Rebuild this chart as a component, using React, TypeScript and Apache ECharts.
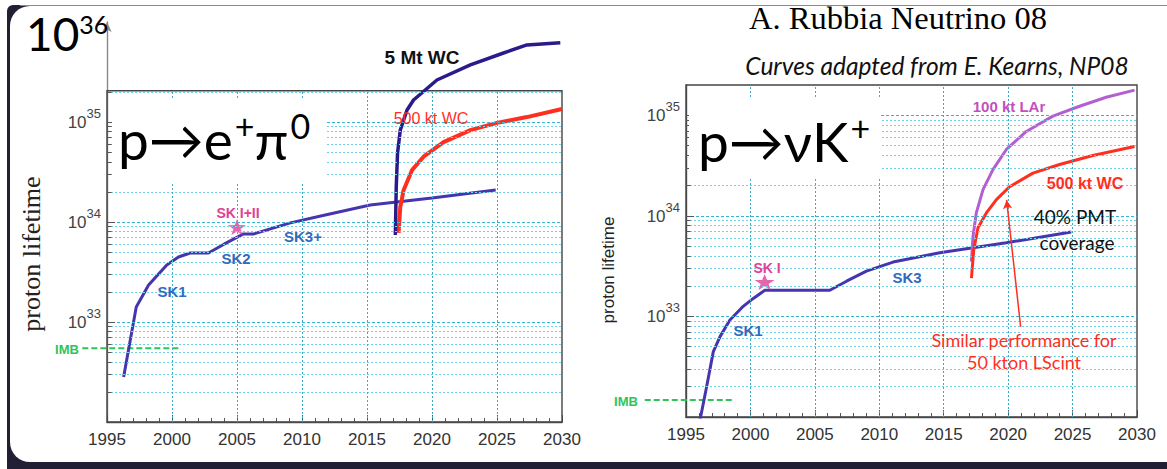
import React, { useEffect, useRef } from 'react';
import * as echarts from 'echarts';

// ---------- axes ----------
const YEAR_MIN = 1995;
const YEAR_MAX = 2030;
const X_GRID_YEARS = [2000, 2005, 2010, 2015, 2020, 2025];
const DECADES = [32, 33, 34, 35];
const MULTIPLIERS = [1, 2, 3, 4, 5, 6, 7, 8, 9];
const LABELLED_EXPONENTS = [33, 34, 35];
const LEFT_Y_MIN = 1e32;
const LEFT_Y_MAX = 1e36;
const LEFT_BOX_TOP = 2.05e35;
const RIGHT_Y_MIN = 1e32;
const RIGHT_Y_MAX = 2e35;

// ---------- left panel: p -> e+ pi0 ----------
const LEFT_SK = [
  [1996.28, 2.82e32], [1997.25, 1.41e33], [1998.2, 2.34e33], [1999.6, 3.72e33],
  [2000.5, 4.47e33], [2001.4, 4.9e33], [2002.8, 4.9e33], [2004.0, 6.0e33],
  [2005.5, 7.6e33], [2006.3, 7.6e33], [2009.1, 9.8e33], [2011.7, 1.17e34],
  [2015.25, 1.48e34], [2020.0, 1.74e34], [2024.9, 2.09e34],
];
const LEFT_5MT_WC = [
  [2017.18, 7.4e33], [2017.25, 2.24e34], [2017.35, 4.9e34], [2017.56, 8.3e34],
  [2018.08, 1.32e35], [2018.58, 1.66e35], [2019.48, 2.09e35], [2020.38, 2.63e35],
  [2022.95, 3.72e35], [2025.5, 4.9e35], [2027.3, 5.9e35], [2029.87, 6.2e35],
];
const LEFT_500KT_WC = [
  [2017.43, 7.8e33], [2017.56, 1.41e34], [2017.82, 2.09e34], [2018.46, 3.3e34],
  [2019.35, 4.5e34], [2020.89, 6.3e34], [2022.95, 8.3e34], [2025.0, 9.8e34],
  [2027.3, 1.12e35], [2030.0, 1.35e35],
];
const LEFT_IMB = [[1993.1, 5.45e32], [2000.64, 5.45e32]];
const LEFT_SK12_STAR = [[2005.0, 8.9e33]];

// ---------- right panel: p -> nu K+ ----------
const RIGHT_SK = [
  [1996.1, 9.5e31], [1996.6, 2.0e32], [1997.12, 4.47e32], [1997.64, 6.3e32],
  [1998.41, 9.2e32], [1999.44, 1.26e33], [2000.22, 1.51e33], [2001.12, 1.82e33],
  [2006.16, 1.82e33], [2007.46, 2.24e33], [2009.0, 2.82e33], [2011.07, 3.47e33],
  [2014.69, 4.3e33], [2019.86, 5.4e33], [2024.9, 6.9e33],
];
const RIGHT_100KT_LAR = [
  [2017.15, 3.5e33], [2017.27, 6.2e33], [2017.53, 1.07e34], [2018.05, 1.82e34],
  [2018.82, 2.88e34], [2019.86, 4.57e34], [2021.41, 6.9e34], [2023.47, 9.8e34],
  [2025.54, 1.23e35], [2027.61, 1.51e35], [2029.81, 1.78e35],
];
const RIGHT_500KT_WC = [
  [2017.15, 2.4e33], [2017.33, 4.57e33], [2017.66, 7.6e33], [2018.31, 1.07e34],
  [2019.09, 1.45e34], [2020.12, 1.95e34], [2021.92, 2.66e34], [2023.99, 3.24e34],
  [2026.57, 3.98e34], [2029.81, 4.9e34],
];
const RIGHT_IMB = [[1991.8, 1.48e32], [1998.67, 1.48e32]];
const RIGHT_SK1_STAR = [[2001.1, 2.2e33]];
const RIGHT_LSCINT_ARROW = [[2020.97, 7.9e32], [2019.88, 1.44e34]];

// ---------- styles ----------
const SANS = "'Liberation Sans', Arial, Helvetica, sans-serif";
const SERIF = "'Liberation Serif', 'Times New Roman', serif";
const HUMAN = "Lato, 'Open Sans', 'Noto Sans', sans-serif";
const C_SK = '#4535ae';
const C_5MT = '#2a1b8c';
const C_RED = '#ff2f1f';
const C_LAR = '#b45fd0';
const C_MAG = '#e0409a';
const C_BLUE_LBL = '#2f6cc0';
const C_GREEN = '#2fc45a';
const C_AXIS = '#555';
const STAR = 'path://M0,-10 L2.35,-3.24 L9.51,-3.09 L3.8,1.24 L5.88,8.09 L0,4 L-5.88,8.09 L-3.8,1.24 L-9.51,-3.09 L-2.35,-3.24 Z';

const MAJOR_LINE = { color: '#38b4d2', width: 1.1, type: [3, 2], opacity: 1 };
const MINOR_LINE = { color: '#70d0e4', width: 1, type: [2, 2], opacity: 1 };
const VERT_LINE = { color: '#3aaccc', width: 1, type: [2, 2], opacity: 1 };
const TICK_LINE = { color: C_AXIS, width: 1, type: 'solid', opacity: 1 };

function buildGridLines(yMin: number, boxTop: number) {
  const lines: any[] = [];
  for (const d of DECADES) {
    for (const m of MULTIPLIERS) {
      const v = m * Math.pow(10, d);
      if (v <= yMin * 1.001 || v >= boxTop) continue;
      lines.push([{ coord: [YEAR_MIN, v], lineStyle: m === 1 ? MAJOR_LINE : MINOR_LINE }, { coord: [YEAR_MAX, v] }]);
      // y-axis tick (long for decades, short for the 2..9 sub-divisions)
      lines.push([{ coord: [YEAR_MIN, v], lineStyle: TICK_LINE }, { coord: [YEAR_MIN + (m === 1 ? 0.62 : 0.35), v] }]);
    }
  }
  for (const yr of X_GRID_YEARS) {
    lines.push([{ coord: [yr, yMin], lineStyle: VERT_LINE }, { coord: [yr, boxTop] }]);
  }
  return lines;
}

function boxSeries(idx: number, yMin: number, boxTop: number) {
  return {
    type: 'line',
    xAxisIndex: idx,
    yAxisIndex: idx,
    data: [[YEAR_MIN, yMin]],
    symbol: 'none',
    lineStyle: { opacity: 0 },
    silent: true,
    z: 1,
    markArea: {
      silent: true,
      itemStyle: { color: 'rgba(0,0,0,0)', borderColor: '#444', borderWidth: 1.4 },
      data: [[{ coord: [YEAR_MIN, yMin] }, { coord: [YEAR_MAX, boxTop] }]],
    },
    markLine: {
      silent: true,
      symbol: ['none', 'none'],
      label: { show: false },
      data: buildGridLines(yMin, boxTop),
    },
  };
}

function lineSeries(idx: number, data: number[][], color: string, width: number, extra: any = {}) {
  return {
    type: 'line',
    xAxisIndex: idx,
    yAxisIndex: idx,
    data,
    symbol: 'none',
    smooth: false,
    lineStyle: { color, width },
    itemStyle: { color },
    z: 3,
    ...extra,
  };
}

// dashed reference level that reaches left of the axis (drawn through the axis scales)
function levelSeries(idx: number, seg: number[][], color: string) {
  return {
    type: 'custom',
    xAxisIndex: idx,
    yAxisIndex: idx,
    clip: false,
    silent: true,
    z: 3,
    data: [[seg[0][0], seg[0][1], seg[1][0], seg[1][1]]],
    encode: { x: [0, 2], y: [1, 3] },
    renderItem: (_params: any, api: any) => {
      const a = api.coord([api.value(0), api.value(1)]);
      const b = api.coord([api.value(2), api.value(3)]);
      return {
        type: 'line',
        shape: { x1: a[0], y1: a[1], x2: b[0], y2: b[1] },
        style: { stroke: color, lineWidth: 2, lineDash: [6, 3] },
      };
    },
  };
}

function yLabelFormatter(v: number) {
  const e = Math.log10(v);
  const r = Math.round(e);
  if (Math.abs(e - r) > 1e-6 || LABELLED_EXPONENTS.indexOf(r) < 0) return '';
  return `{b|10}{s|${r}}`;
}

const yLabelRich = {
  b: { fontSize: 17, fontFamily: SANS, color: '#444', verticalAlign: 'bottom', lineHeight: 18 },
  s: { fontSize: 13, fontFamily: SANS, color: '#444', verticalAlign: 'bottom', lineHeight: 14, padding: [0, 0, 11, 0] },
};

function xAxis(idx: number) {
  return {
    type: 'value',
    gridIndex: idx,
    min: YEAR_MIN,
    max: YEAR_MAX,
    interval: 5,
    axisLine: { show: true, lineStyle: { color: C_AXIS, width: 1.4 } },
    axisTick: { show: true, inside: true, length: 7, lineStyle: { color: C_AXIS, width: 1 } },
    minorTick: { show: true, splitNumber: 5, length: 4, lineStyle: { color: C_AXIS, width: 1 } },
    splitLine: { show: false },
    axisLabel: { fontSize: 17, fontFamily: SANS, color: '#333', margin: 9, formatter: (v: number) => String(v) },
  };
}

function yAxis(idx: number, min: number, max: number, arrow: boolean) {
  return {
    type: 'log',
    logBase: 10,
    gridIndex: idx,
    min,
    max,
    axisLine: {
      show: true,
      lineStyle: { color: arrow ? '#888' : C_AXIS, width: 1.4 },
      symbol: arrow ? ['none', 'arrow'] : ['none', 'none'],
      symbolSize: [7, 10],
    },
    axisTick: { show: false },
    splitLine: { show: false },
    minorTick: { show: false },
    axisLabel: { formatter: yLabelFormatter, rich: yLabelRich, margin: 6 },
  };
}

function txt(text: string, x: number, y: number, size: number, color: string, opts: any = {}) {
  return {
    type: 'text',
    x,
    y,
    z: 50,
    silent: true,
    rotation: opts.rotation || 0,
    style: {
      text,
      fill: color,
      fontSize: size,
      fontFamily: opts.family || SANS,
      fontWeight: opts.weight || 'normal',
      fontStyle: opts.style || 'normal',
      align: opts.align || 'center',
      verticalAlign: opts.valign || 'middle',
    },
  };
}

function richTxt(text: string, x: number, y: number, rich: any, z = 50) {
  return {
    type: 'text',
    x,
    y,
    z,
    silent: true,
    style: { text, rich, align: 'left', verticalAlign: 'top' },
  };
}

const bigRich = {
  b: { fontSize: 55, fontFamily: HUMAN, color: '#111', verticalAlign: 'bottom', lineHeight: 58 },
  s: { fontSize: 34, fontFamily: HUMAN, color: '#111', verticalAlign: 'bottom', lineHeight: 36, padding: [0, 0, 24, 2] },
};
const topRich = {
  b: { fontSize: 46, fontFamily: HUMAN, color: '#111', verticalAlign: 'bottom', lineHeight: 48 },
  s: { fontSize: 25, fontFamily: HUMAN, color: '#111', verticalAlign: 'bottom', lineHeight: 26, padding: [0, 0, 20, 0] },
};

export default function App() {
  const ref = useRef<HTMLDivElement>(null);

  useEffect(() => {
    if (!ref.current) return;
    const chart = echarts.init(ref.current, undefined, { renderer: 'svg' });
    const option: any = {
      animation: false,
      backgroundColor: '#ffffff',
      grid: [
        { left: 107, right: 1167 - 562, top: 22, bottom: 469 - 422 },
        { left: 686, right: 1167 - 1137, top: 85, bottom: 469 - 417 },
      ],
      xAxis: [xAxis(0), xAxis(1)],
      yAxis: [yAxis(0, LEFT_Y_MIN, LEFT_Y_MAX, true), yAxis(1, RIGHT_Y_MIN, RIGHT_Y_MAX, false)],
      series: [
        boxSeries(0, LEFT_Y_MIN, LEFT_BOX_TOP),
        lineSeries(0, LEFT_SK, C_SK, 3),
        lineSeries(0, LEFT_500KT_WC, C_RED, 4),
        lineSeries(0, LEFT_5MT_WC, C_5MT, 3.5),
        levelSeries(0, LEFT_IMB, C_GREEN),
        {
          type: 'scatter', xAxisIndex: 0, yAxisIndex: 0, data: LEFT_SK12_STAR,
          symbol: STAR, symbolSize: [18, 16], itemStyle: { color: C_MAG }, z: 4,
        },
        boxSeries(1, RIGHT_Y_MIN, RIGHT_Y_MAX),
        lineSeries(1, RIGHT_SK, C_SK, 3),
        lineSeries(1, RIGHT_100KT_LAR, C_LAR, 3),
        lineSeries(1, RIGHT_500KT_WC, C_RED, 3, {
          markLine: {
            silent: true,
            symbol: ['none', 'arrow'],
            symbolSize: [7, 9],
            label: { show: false },
            lineStyle: { color: C_RED, width: 1.5, type: 'solid' },
            data: [[{ coord: RIGHT_LSCINT_ARROW[0] }, { coord: RIGHT_LSCINT_ARROW[1] }]],
          },
        }),
        levelSeries(1, RIGHT_IMB, C_GREEN),
        {
          type: 'scatter', xAxisIndex: 1, yAxisIndex: 1, data: RIGHT_SK1_STAR,
          symbol: STAR, symbolSize: [20, 16], itemStyle: { color: C_MAG }, z: 4,
        },
      ],
      graphic: [
        // frame
        { type: 'rect', z: -10, silent: true, shape: { x: 7, y: 5, width: 1300, height: 520, r: 6 }, style: { fill: '#211f33' } },
        { type: 'rect', z: -9, silent: true, shape: { x: 10, y: 6, width: 1300, height: 456, r: 20 }, style: { fill: '#ffffff' } },
        { type: 'line', z: -8, silent: true, shape: { x1: 20, y1: 5.5, x2: 1167, y2: 5.5 }, style: { stroke: '#8a8a8a', lineWidth: 1 } },
        // white patches behind the big reaction labels
        { type: 'rect', z: 40, silent: true, shape: { x: 112, y: 100, width: 214, height: 82 }, style: { fill: '#ffffff' } },
        { type: 'rect', z: 40, silent: true, shape: { x: 689, y: 97, width: 192, height: 82 }, style: { fill: '#ffffff' } },
        // left panel texts
        richTxt('{b|10}{s|36}', 26, 8, topRich),
        richTxt('{b|p→e}{s|+}{b|π}{s|0}', 118, 108, bigRich),
        txt('proton lifetime', 31, 254, 26, '#222', { family: SERIF, rotation: Math.PI / 2 }),
        txt('5 Mt WC', 422, 57, 19, '#111', { weight: 'bold' }),
        txt('500 kt WC', 431, 118, 16, C_RED),
        txt('SK I+II', 238, 213, 14, C_MAG, { weight: 'bold' }),
        txt('SK3+', 303, 236, 15, C_BLUE_LBL, { weight: 'bold' }),
        txt('SK2', 236, 258, 15, C_BLUE_LBL, { weight: 'bold' }),
        txt('SK1', 172, 291, 15, C_BLUE_LBL, { weight: 'bold' }),
        txt('IMB', 67, 349, 13, C_GREEN, { weight: 'bold' }),
        // right panel texts
        txt('A. Rubbia Neutrino 08', 898, 18, 32.5, '#000', { family: SERIF }),
        txt('Curves adapted from E. Kearns, NP08', 937, 65, 24.5, '#111', { family: HUMAN, style: 'italic' }),
        richTxt('{b|p→νK}{s|+}', 698, 110, bigRich),
        txt('proton lifetime', 608, 270, 17, '#222', { rotation: Math.PI / 2 }),
        txt('100 kt LAr', 1009, 106, 15, '#c24fbf', { weight: 'bold' }),
        txt('500 kt WC', 1085, 183, 16, C_RED, { weight: 'bold' }),
        txt('40% PMT', 1075, 216, 19, '#111', { family: HUMAN }),
        txt('coverage', 1077, 242, 19, '#111', { family: HUMAN }),
        txt('SK I', 767, 268, 14, C_MAG, { weight: 'bold' }),
        txt('SK1', 748, 330, 15, C_BLUE_LBL, { weight: 'bold' }),
        txt('SK3', 907, 277, 15, C_BLUE_LBL, { weight: 'bold' }),
        txt('IMB', 626, 401, 13, C_GREEN, { weight: 'bold' }),
        txt('Similar performance for', 1024, 340, 18, C_RED, { family: HUMAN }),
        txt('50 kton LScint', 1024, 362, 18, C_RED, { family: HUMAN }),
      ],
    };
    chart.setOption(option);
    return () => chart.dispose();
  }, []);

  return (
    <div
      ref={ref}
      style={{ position: 'fixed', left: 0, top: 0, width: 1167, height: 469, background: '#fff' }}
    />
  );
}
